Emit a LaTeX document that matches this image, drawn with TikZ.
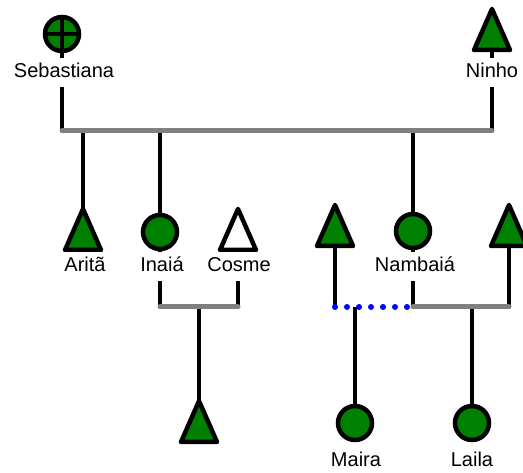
\documentclass[tikz,border=0pt]{standalone}
\usepackage{fontspec}
\setmainfont{Liberation Sans}
\usetikzlibrary{shapes.geometric,backgrounds}
\definecolor{kgreen}{RGB}{0,128,0}
\definecolor{kgray}{RGB}{128,128,128}
\begin{document}
\begin{tikzpicture}[x=1pt,y=-1pt,
  female/.style={circle, draw=black, line width=4.5pt, fill=kgreen, minimum size=34pt, inner sep=0pt, outer sep=0pt},
  male/.style={isosceles triangle, isosceles triangle stretches=true, shape border rotate=90, draw=black, line width=4.5pt, fill=kgreen, minimum width=36pt, minimum height=41pt, inner sep=0pt, outer sep=0pt, line join=round, anchor=apex},
  lbl/.style={font=\fontsize{20}{24}\selectfont, fill=white, text height=15pt, text depth=4pt, inner xsep=1pt, inner ysep=5pt, anchor=base},
  kline/.style={draw=black, line width=4.5pt},
  gline/.style={draw=kgray, line width=5pt, line cap=round},
  bline/.style={draw=blue, line width=6pt, line cap=round, dash pattern=on 0pt off 12pt}]
\clip (0,0) rectangle (523,473);
% people
\node[female, path picture={\draw[black,line width=3.5pt] (path picture bounding box.north) -- (path picture bounding box.south) (path picture bounding box.west) -- (path picture bounding box.east);}] (seb) at (62,34) {};
\node[male] (ninho) at (492,9) {};
\node[male] (arita) at (83,209) {};
\node[female] (inaia) at (160,232) {};
\node[male, fill=white] (cosme) at (238,209) {};
\node[male] (tl) at (335,205) {};
\node[female] (nambaia) at (413,231) {};
\node[male] (tr) at (509,205) {};
\node[male] (child) at (199,401) {};
\node[female] (maira) at (355,423) {};
\node[female] (laila) at (472,423) {};
% labels
\node[lbl] (lseb) at (64,78) {Sebastiana};
\node[lbl] (lninho) at (492,78) {Ninho};
\node[lbl] (larita) at (85,272) {Aritã};
\node[lbl] (linaia) at (162,272) {Inaiá};
\node[lbl] (lcosme) at (239,272) {Cosme};
\node[lbl] (lnambaia) at (415,272) {Nambaiá};
\node[lbl] (lmaira) at (356,467) {Maira};
\node[lbl] (llaila) at (472,467) {Laila};
% junction points
\coordinate (m1l) at (62,131);
\coordinate (m1r) at (492,131);
\coordinate (d1) at (83,131);
\coordinate (d2) at (160,131);
\coordinate (d3) at (413,131);
\coordinate (m2l) at (160,307);
\coordinate (m2r) at (238,307);
\coordinate (d4) at (199,307);
\coordinate (m3l) at (335,307);
\coordinate (m3m) at (413,307);
\coordinate (m3r) at (509,307);
\coordinate (d5) at (355,307);
\coordinate (d6) at (472,307);
\begin{pgfonlayer}{background}
\draw[kline] (seb) -- (m1l);
\draw[kline] (ninho) -- (m1r);
\draw[kline] (d1) -- (arita);
\draw[kline] (d2) -- (inaia);
\draw[kline] (inaia) -- (m2l);
\draw[kline] (cosme) -- (m2r);
\draw[kline] (d3) -- (nambaia);
\draw[kline] (nambaia) -- (m3m);
\draw[kline] (tl) -- (m3l);
\draw[kline] (tr) -- (m3r);
\draw[kline] (d4) -- (child);
\draw[kline] (d5) -- (maira);
\draw[kline] (d6) -- (laila);
\draw[gline] (m1l) -- (m1r);
\draw[gline] (m2l) -- (m2r);
\draw[gline] (m3m) -- (m3r);
\draw[bline] (m3l) -- (m3m);
\end{pgfonlayer}
\end{tikzpicture}
\end{document}
